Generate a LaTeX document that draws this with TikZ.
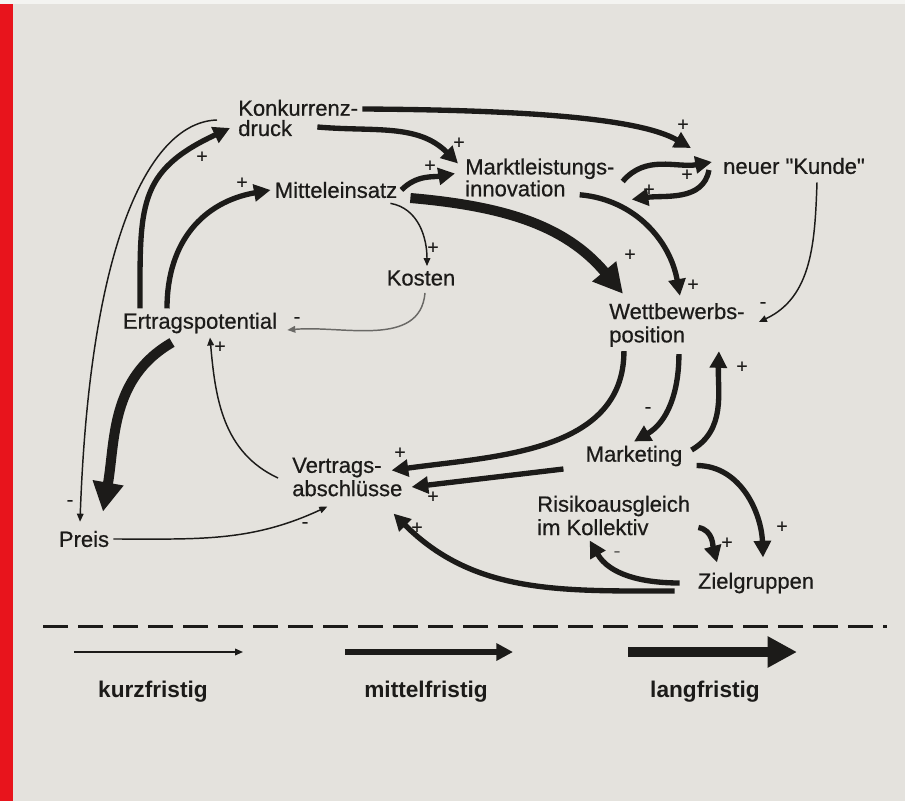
\documentclass[tikz,border=0pt]{standalone}
\usepackage{fontspec}
\setmainfont{Liberation Sans}
\usetikzlibrary{arrows.meta}
\definecolor{ink}{HTML}{1C1B19}
\definecolor{papier}{HTML}{E4E2DD}
\definecolor{rand}{HTML}{E8141C}
\definecolor{grau}{HTML}{6A6966}

\begin{document}
\begin{tikzpicture}[x=0.75pt,y=0.75pt]
\tikzset{
	lbl/.style={font=\fontsize{16.5}{17.5}\selectfont\addfontfeature{FakeBold=0.6},text=ink,align=left,inner sep=3pt},
	lbleng/.style={lbl,font=\fontsize{16.5}{15.2}\selectfont\addfontfeature{FakeBold=0.6}},
	sgn/.style={font=\fontsize{14}{14}\selectfont\addfontfeature{FakeBold=1},text=ink,inner sep=0pt},
	kurzfr/.style={draw=ink,line width=1.1pt,-{Triangle[length=6pt,width=5pt]}},
	mittelfr/.style={draw=ink,line width=4pt,-{Triangle[length=12.5pt,width=12.5pt]}},
	langfr/.style={draw=ink,line width=7.5pt,-{Triangle[length=22pt,width=22pt]}},
	legende/.style={font=\fontsize{17}{17}\selectfont\bfseries,text=ink}
}
\useasboundingbox (0,0) rectangle (905,801);
\fill[papier] (0,0) rectangle (905,801);
\fill[white!60!papier] (0,797) rectangle (905,801);
\fill[rand] (0,0) rectangle (13,797);

\node[lbleng,anchor=west] (konkurrenz) at (234,683) {Konkurrenz-\\druck};
\node[lbl] (mitteleinsatz) at (336,611) {Mitteleinsatz};
\node[lbleng,anchor=west] (innovation) at (461,623.5) {Marktleistungs-\\innovation};
\node[lbl] (kunde) at (794,635) {neuer \textquotedbl Kunde\textquotedbl};
\node[lbl] (kosten) at (421,523) {Kosten};
\node[lbl] (ertrag) at (200,478) {Ertragspotential};
\node[lbl,anchor=west] (wettbewerb) at (605,476) {Wettbewerbs-\\position};
\node[lbl,anchor=west] (vertrag) at (288,324) {Vertrags-\\abschlüsse};
\node[lbl] (marketing) at (634,345) {Marketing};
\node[lbl,anchor=west] (risiko) at (533,285.5) {Risikoausgleich\\im Kollektiv};
\node[lbl] (preis) at (84,262) {Preis};
\node[lbl] (ziel) at (756,218) {Zielgruppen};

% langfristig
\draw[langfr] ([shift={(9,-8)}]mitteleinsatz.east) to[out=-5,in=130] ([shift={(18,5)}]wettbewerb.north west);
\draw[langfr] ([shift={(-28,-5)}]ertrag.south) to[out=210,in=80] ([shift={(19,15)}]preis.north);

% mittelfristig
\draw[mittelfr] ([shift={(-60,0)}]ertrag.north) to[out=90,in=205,looseness=1.3] ([shift={(-4,-10)}]konkurrenz.west);
\draw[mittelfr] ([shift={(-33,0)}]ertrag.north) to[out=90,in=190,looseness=1.1] (mitteleinsatz.west);
\draw[mittelfr] (mitteleinsatz.east) to[out=45,in=190] ([shift={(-6,4)}]innovation.west);
\draw[mittelfr] ([shift={(-45,-9)}]konkurrenz.east) to[out=-5,in=135] ([shift={(-3,14)}]innovation.west);
\draw[mittelfr] ([shift={(0,9)}]konkurrenz.east) .. controls +(162,-1) and +(-52,30) .. ([shift={(-28,18)}]kunde.west);
\draw[mittelfr] ([shift={(4,-4)}]innovation.east) to[out=50,in=190] ([shift={(-7,4)}]kunde.west);
\draw[mittelfr] ([shift={(-10,-4)}]kunde.west) to[out=-100,in=8] ([shift={(13,-22)}]innovation.east);
\draw[mittelfr] ([shift={(-39,6)}]innovation.south east) to[out=-5,in=100] ([shift={(3,3)}]wettbewerb.north);
\draw[mittelfr] ([shift={(-53,0)}]wettbewerb.south) to[out=-90,in=8] ([shift={(-15,-17)}]vertrag.north east);
\draw[mittelfr] ([shift={(2,-3)}]wettbewerb.south) to[out=-90,in=30] (marketing.north);
\draw[mittelfr] ([shift={(5,6)}]marketing.east) to[out=30,in=-92] ([shift={(42,0)}]wettbewerb.south);
\draw[mittelfr] ([shift={(-18,-13)}]marketing.west) -- ([shift={(5,-10)}]vertrag.east);
\draw[mittelfr] ([shift={(10,5)}]marketing.south east) to[out=0,in=92] ([shift={(7,11)}]ziel.north);
\draw[mittelfr] ([shift={(4,-12)}]risiko.east) to[out=-10,in=105] ([shift={(-39,6)}]ziel.north);
\draw[mittelfr] ([shift={(-14,0)}]ziel.west) to[out=180,in=-60] ([shift={(-24,-1)}]risiko.south);
\draw[mittelfr] ([shift={(-19,-8)}]ziel.west) to[out=180,in=-45] ([shift={(-13,-13)}]vertrag.south east);

% kurzfristig
\draw[kurzfr] ([shift={(-17,-2)}]konkurrenz.west) .. controls +(-67,-2) and +(10,282) .. ([shift={(-4,5)}]preis.north);
\draw[kurzfr] ([shift={(-11,-1)}]mitteleinsatz.south east) to[out=-10,in=90] ([shift={(6,0)}]kosten.north);
\draw[kurzfr,draw=grau] ([shift={(4,-3)}]kosten.south) to[out=-95,in=5] ([shift={(6,-7)}]ertrag.east);
\draw[kurzfr] ([shift={(-10,-1)}]vertrag.west) to[out=155,in=-85] ([shift={(10,0)}]ertrag.south);
\draw[kurzfr] (preis.east) to[out=0,in=205] ([shift={(-20,-6)}]vertrag.south);
\draw[kurzfr] ([shift={(23,-4)}]kunde.south) to[out=-92,in=25] ([shift={(10,3)}]wettbewerb.east);

% Vorzeichen
\foreach \px/\py/\s [count=\i] in {202/644/+,242/618/+,459/658/+,430/635/+,683/676/+,
		687/626/+,649/611/+,433/553/+,630/546/+,693/516/+,763/496/-,297/481/-,
		220/454/+,742/434/+,648/391/-,400/348/+,433/304/+,417/273/+,70/298/-,
		305/276/-,727/258/+,782/274/+}
	\node[sgn] (v\i) at (\px,\py) {\s};
\node[sgn,text=grau] (v23) at (617,247) {-};

% Legende
\draw[ink,line width=2.25pt,dash pattern=on 18.75pt off 7.5pt] (43,175) -- (887,175);
\coordinate (k0) at (74,149);  \coordinate (k1) at (243,149);
\coordinate (m0) at (345,149); \coordinate (m1) at (513,149);
\coordinate (l0) at (628,149); \coordinate (l1) at (797,149);
\draw[kurzfr] (k0) -- (k1);
\draw[mittelfr] (m0) -- (m1);
\draw[langfr] (l0) -- (l1);
\node[legende] (kurz) at (153,109) {kurzfristig};
\node[legende] (mittel) at (426,109) {mittelfristig};
\node[legende] (lang) at (705,109) {langfristig};
\end{tikzpicture}
\end{document}
